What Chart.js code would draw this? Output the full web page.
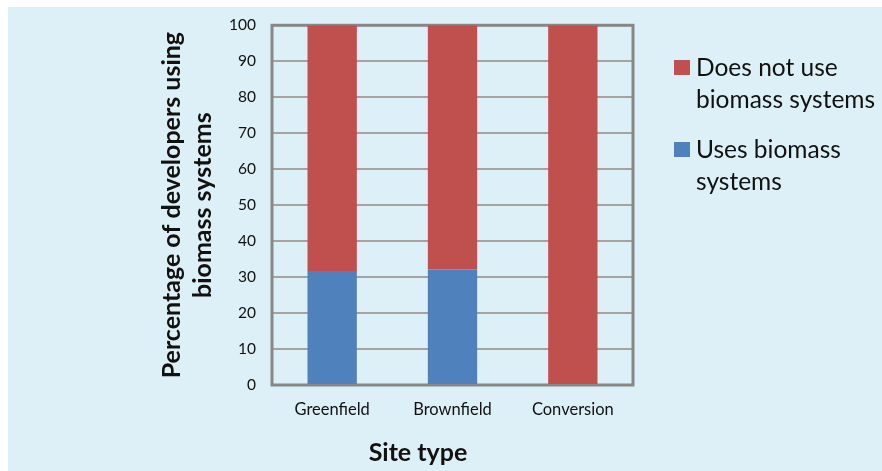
<!DOCTYPE html>
<html>
<head>
<meta charset="utf-8">
<title>Biomass systems by site type</title>
<script src="https://cdn.jsdelivr.net/npm/chart.js@4/dist/chart.umd.min.js"></script>
<style>
  html, body { margin: 0; padding: 0; background: #ffffff; }
  #chart { display: block; }
</style>
</head>
<body>
<canvas id="chart" width="882" height="471"></canvas>
<script>
const siteTypes = ["Greenfield", "Brownfield", "Conversion"];
const usesBiomass = [31.7, 32.1, 0];
const doesNotUse = [68.3, 67.9, 100];
const yTicks = [0, 10, 20, 30, 40, 50, 60, 70, 80, 90, 100];
const xTitle = "Site type";
const yTitle = ["Percentage of developers using", "biomass systems"];

const FONT = "Lato, 'Open Sans', sans-serif";
const BG = "#ddf0f8";
const FRAME = "#878787";

// light blue panel behind everything, inset from the top-left corner
const panelBg = {
  id: "panelBg",
  beforeDraw(chart) {
    const ctx = chart.ctx;
    ctx.save();
    ctx.fillStyle = BG;
    ctx.fillRect(8, 7, chart.width - 8, chart.height - 7);
    ctx.restore();
  },
};

// heavy grey frame round the plot area
const plotFrame = {
  id: "plotFrame",
  beforeDatasetsDraw(chart) {
    const { left, right, top, bottom } = chart.chartArea;
    const ctx = chart.ctx;
    ctx.save();
    ctx.strokeStyle = FRAME;
    ctx.lineWidth = 3;
    ctx.strokeRect(left, top, right - left, bottom - top);
    ctx.restore();
  },
};

// x axis title sits a little left of the plot centre
const xAxisTitle = {
  id: "xAxisTitle",
  afterDraw(chart, args, opts) {
    const ctx = chart.ctx;
    ctx.save();
    ctx.font = opts.font;
    ctx.fillStyle = "#111111";
    ctx.textAlign = "center";
    ctx.textBaseline = "middle";
    ctx.fillText(opts.text, opts.x, opts.y);
    ctx.restore();
  },
};

// legend on the right, wrapped labels, top-most series first
const sideLegend = {
  id: "sideLegend",
  afterDraw(chart, args, opts) {
    const ctx = chart.ctx;
    ctx.save();
    ctx.font = opts.font;
    ctx.textBaseline = "middle";
    let y = opts.y;
    const sets = chart.data.datasets.slice().reverse();
    sets.forEach((ds) => {
      const words = ds.label.split(" ");
      const lines = [];
      let cur = "";
      words.forEach((w) => {
        const t = cur ? cur + " " + w : w;
        if (cur && ctx.measureText(t).width > opts.maxWidth) {
          lines.push(cur);
          cur = w;
        } else cur = t;
      });
      lines.push(cur);
      ctx.fillStyle = ds.backgroundColor;
      ctx.fillRect(opts.x, y - 8, 16, 15);
      ctx.fillStyle = "#111111";
      lines.forEach((ln, i) => {
        ctx.fillText(ln, opts.x + 22, y + i * opts.lineHeight);
      });
      y += lines.length * opts.lineHeight + opts.gap;
    });
    ctx.restore();
  },
};

new Chart(document.getElementById("chart"), {
  type: "bar",
  data: {
    labels: siteTypes,
    datasets: [
      {
        label: "Uses biomass systems",
        data: usesBiomass,
        backgroundColor: "#4f81bd",
        categoryPercentage: 1,
        barPercentage: 0.41,
      },
      {
        label: "Does not use biomass systems",
        data: doesNotUse,
        backgroundColor: "#c0504d",
        categoryPercentage: 1,
        barPercentage: 0.41,
      },
    ],
  },
  options: {
    responsive: false,
    animation: false,
    layout: { padding: { top: 25, right: 249, left: 0, bottom: 0 } },
    plugins: {
      legend: { display: false },
      tooltip: { enabled: false },
      xAxisTitle: {
        text: xTitle,
        x: 418,
        y: 453,
        font: "bold 25px " + FONT,
      },
      sideLegend: {
        x: 674,
        y: 68,
        lineHeight: 32,
        gap: 18,
        maxWidth: 186,
        font: "24.5px " + FONT,
      },
    },
    scales: {
      x: {
        stacked: true,
        grid: { display: false, drawTicks: false },
        border: { display: false },
        ticks: {
          color: "#111111",
          padding: 15,
          font: { family: FONT, size: 16.5 },
        },
        afterFit(scale) {
          scale.height = 86;
        },
      },
      y: {
        stacked: true,
        min: 0,
        max: 100,
        afterBuildTicks(scale) {
          scale.ticks = yTicks.map((v) => ({ value: v }));
        },
        grid: { color: "#a3a3a3", lineWidth: 2, drawTicks: false },
        border: { display: false },
        ticks: {
          color: "#111111",
          padding: 16,
          font: { family: FONT, size: 15.5 },
        },
        title: {
          display: true,
          text: yTitle,
          color: "#111111",
          font: { family: FONT, size: 25, weight: "bold", lineHeight: 1.24 },
          padding: { top: 156, bottom: 0 },
        },
        afterFit(scale) {
          scale.width = 272;
        },
      },
    },
  },
  plugins: [panelBg, plotFrame, xAxisTitle, sideLegend],
});
</script>
</body>
</html>
